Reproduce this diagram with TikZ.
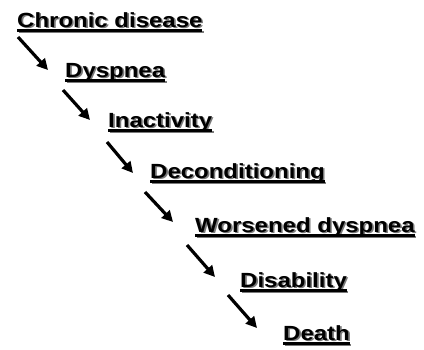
\documentclass[tikz,border=0pt]{standalone}
\usepackage{fontspec}
\setmainfont{Liberation Sans}[FakeStretch=1.17]
\usetikzlibrary{arrows.meta}
\definecolor{shadowGrey}{HTML}{7A7A7A}
\newcommand{\ulword}[1]{\setbox0=\hbox{#1}\rlap{\copy0}\rule[-4.8pt]{\wd0}{2.8pt}}
\newcommand{\shadowword}[1]{\rlap{\kern1.6pt\raisebox{-1.6pt}{\color{shadowGrey}\ulword{#1}}}\ulword{#1}}

\begin{document}
\begin{tikzpicture}[x=1pt,y=-1pt,
    every node/.style={font=\fontsize{20.5}{24}\selectfont\bfseries,anchor=base west,inner sep=0pt},
    steparrow/.style={line width=3.2pt,-{Triangle[length=11pt,width=11pt]}}]
      \useasboundingbox (0,0) rectangle (424,349);
      \foreach \x/\y/\n/\t in {%
        17/27/chronic/Chronic disease,
        65/77/dyspnea/Dyspnea,
        108/127/inactivity/Inactivity,
        150/178/decond/Deconditioning,
        195/232/worsened/Worsened dyspnea,
        240/287/disability/Disability,
        283/340/death/Death}{%
        \node (\n) at (\x,\y) {\shadowword{\t}};
      }
      \foreach \a/\b/\sx/\sy/\ex/\ey in {%
        chronic/dyspnea/1/10/-17/-7,
        dyspnea/inactivity/-2/13/-18/-7,
        inactivity/decond/-1/15/-17/-5,
        decond/worsened/-5/14/-22/-10,
        worsened/disability/-8/13/-25/-10,
        disability/death/-12/8/-26/-12}{%
        \draw[steparrow] ([shift={(\sx,\sy)}]\a.base west) -- ([shift={(\ex,\ey)}]\b.base west);
      }
    \end{tikzpicture}
\end{document}
